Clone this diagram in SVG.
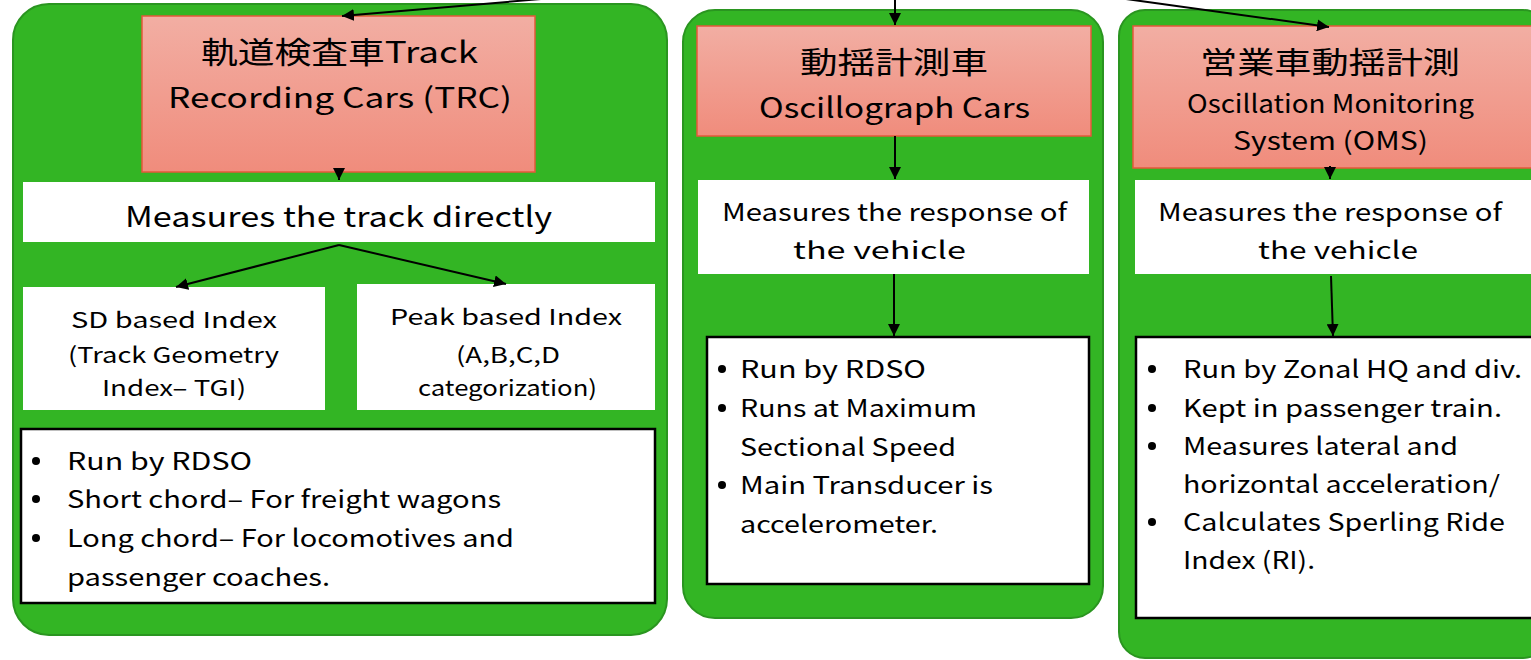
<svg xmlns="http://www.w3.org/2000/svg" width="1531" height="660" viewBox="0 0 1531 660">
<style>
.panel{fill:#33b524;stroke:#2a9520;stroke-width:2}
.head{fill:url(#pink);stroke:#e4583a;stroke-width:1.5}
.wbox{fill:#ffffff;stroke:none}
.bbox{fill:#ffffff;stroke:#000;stroke-width:2.5}
text{font-family:"Noto Sans CJK JP","Noto Sans",sans-serif;fill:#000}
.t30{font-size:30px}
.t28{font-size:28px}
.t25{font-size:25px}
.t24{font-size:24px}
.t22{font-size:22px}
.conn{stroke:#000;stroke-width:2;fill:none;marker-end:url(#ah)}
.dot{fill:#000}
</style>
<defs>
<linearGradient id="pink" x1="0" y1="0" x2="0" y2="1">
<stop offset="0" stop-color="#f2aea3"/>
<stop offset="1" stop-color="#f08c7c"/>
</linearGradient>
<marker id="ah" viewBox="0 0 10 10" refX="10" refY="5" markerWidth="6" markerHeight="6" orient="auto" markerUnits="strokeWidth">
<path d="M0,0 L10,5 L0,10 z" fill="#000"/>
</marker>
</defs>

<g id="panel-trc"><rect class="panel" x="13" y="4" width="654" height="631" rx="36"/></g>
<g id="panel-osc"><rect class="panel" x="683" y="10" width="420" height="608" rx="32"/></g>
<g id="panel-oms"><rect class="panel" x="1119" y="10" width="430" height="648" rx="26"/></g>

<g id="trc">
<rect class="head" x="142" y="16" width="393" height="156"/>
<text class="t30" x="201" y="63" textLength="277" lengthAdjust="spacingAndGlyphs">軌道検査車Track</text>
<text class="t28" x="168" y="108" textLength="344" lengthAdjust="spacingAndGlyphs">Recording Cars (TRC)</text>
</g>
<g id="trc-measures">
<rect class="wbox" x="23" y="182" width="632" height="60"/>
<text class="t28" x="125" y="227" textLength="427" lengthAdjust="spacingAndGlyphs">Measures the track directly</text>
</g>
<g id="sd-index">
<rect class="wbox" x="23" y="287" width="302" height="123"/>
<text class="t22" x="71" y="328" textLength="206" lengthAdjust="spacingAndGlyphs">SD based Index</text>
<text class="t22" x="68" y="363" textLength="211" lengthAdjust="spacingAndGlyphs">(Track Geometry</text>
<text class="t22" x="102" y="396" textLength="144" lengthAdjust="spacingAndGlyphs">Index– TGI)</text>
</g>
<g id="peak-index">
<rect class="wbox" x="357" y="284" width="298" height="126"/>
<text class="t22" x="390" y="325" textLength="232" lengthAdjust="spacingAndGlyphs">Peak based Index</text>
<text class="t22" x="456" y="363" textLength="104" lengthAdjust="spacingAndGlyphs">(A,B,C,D</text>
<text class="t22" x="418" y="396" textLength="179" lengthAdjust="spacingAndGlyphs">categorization)</text>
</g>
<g id="trc-bullets">
<rect class="bbox" x="21" y="429" width="634" height="174"/>
<circle class="dot" cx="36" cy="461" r="4"/>
<circle class="dot" cx="36" cy="499" r="4"/>
<circle class="dot" cx="36" cy="538" r="4"/>
<text class="t24" x="67" y="470" textLength="185" lengthAdjust="spacingAndGlyphs">Run by RDSO</text>
<text class="t24" x="67" y="508" textLength="434" lengthAdjust="spacingAndGlyphs">Short chord– For freight wagons</text>
<text class="t24" x="67" y="547" textLength="447" lengthAdjust="spacingAndGlyphs">Long chord– For locomotives and</text>
<text class="t24" x="67" y="586" textLength="263" lengthAdjust="spacingAndGlyphs">passenger coaches.</text>
</g>

<g id="osc">
<rect class="head" x="697" y="26" width="394" height="110"/>
<text class="t30" x="800" y="73" textLength="188" lengthAdjust="spacingAndGlyphs">動揺計測車</text>
<text class="t28" x="759" y="118" textLength="271" lengthAdjust="spacingAndGlyphs">Oscillograph Cars</text>
</g>
<g id="osc-measures">
<rect class="wbox" x="698" y="180" width="391" height="94"/>
<text class="t24" x="722" y="221" textLength="345" lengthAdjust="spacingAndGlyphs">Measures the response of</text>
<text class="t24" x="793" y="259" textLength="173" lengthAdjust="spacingAndGlyphs">the vehicle</text>
</g>
<g id="osc-bullets">
<rect class="bbox" x="707" y="337" width="382" height="247"/>
<circle class="dot" cx="722" cy="369" r="4"/>
<circle class="dot" cx="722" cy="408" r="4"/>
<circle class="dot" cx="722" cy="485" r="4"/>
<text class="t24" x="740" y="378" textLength="186" lengthAdjust="spacingAndGlyphs">Run by RDSO</text>
<text class="t24" x="740" y="417" textLength="237" lengthAdjust="spacingAndGlyphs">Runs at Maximum</text>
<text class="t24" x="740" y="456" textLength="216" lengthAdjust="spacingAndGlyphs">Sectional Speed</text>
<text class="t24" x="740" y="494" textLength="253" lengthAdjust="spacingAndGlyphs">Main Transducer is</text>
<text class="t24" x="740" y="533" textLength="198" lengthAdjust="spacingAndGlyphs">accelerometer.</text>
</g>

<g id="oms">
<rect class="head" x="1133" y="26" width="410" height="142"/>
<text class="t30" x="1200" y="73" textLength="260" lengthAdjust="spacingAndGlyphs">営業車動揺計測</text>
<text class="t25" x="1187" y="113" textLength="287" lengthAdjust="spacingAndGlyphs">Oscillation Monitoring</text>
<text class="t25" x="1233" y="150" textLength="195" lengthAdjust="spacingAndGlyphs">System (OMS)</text>
</g>
<g id="oms-measures">
<rect class="wbox" x="1135" y="180" width="410" height="94"/>
<text class="t24" x="1158" y="221" textLength="344" lengthAdjust="spacingAndGlyphs">Measures the response of</text>
<text class="t24" x="1258" y="259" textLength="160" lengthAdjust="spacingAndGlyphs">the vehicle</text>
</g>
<g id="oms-bullets">
<rect class="bbox" x="1136" y="337" width="410" height="281"/>
<circle class="dot" cx="1152" cy="369" r="4"/>
<circle class="dot" cx="1152" cy="408" r="4"/>
<circle class="dot" cx="1152" cy="446" r="4"/>
<circle class="dot" cx="1152" cy="522" r="4"/>
<text class="t24" x="1183" y="378" textLength="339" lengthAdjust="spacingAndGlyphs">Run by Zonal HQ and div.</text>
<text class="t24" x="1183" y="417" textLength="319" lengthAdjust="spacingAndGlyphs">Kept in passenger train.</text>
<text class="t24" x="1183" y="455" textLength="275" lengthAdjust="spacingAndGlyphs">Measures lateral and</text>
<text class="t24" x="1183" y="493" textLength="317" lengthAdjust="spacingAndGlyphs">horizontal acceleration/</text>
<text class="t24" x="1183" y="531" textLength="322" lengthAdjust="spacingAndGlyphs">Calculates Sperling Ride</text>
<text class="t24" x="1183" y="569" textLength="132" lengthAdjust="spacingAndGlyphs">Index (RI).</text>
</g>

<g id="connectors">
<path class="conn" d="M541,-1 L342,16"/>
<path class="conn" d="M895,-1 L895,25"/>
<path class="conn" d="M1126,-1 L1329,27"/>
<path class="conn" d="M339,168 L339,180"/>
<path class="conn" d="M339,245 L176,287"/>
<path class="conn" d="M339,245 L506,284"/>
<path class="conn" d="M895,136 L895,179"/>
<path class="conn" d="M1330,166 L1330,179"/>
<path class="conn" d="M894,274 L894,336"/>
<path class="conn" d="M1331,276 L1333,336"/>
</g>
</svg>
